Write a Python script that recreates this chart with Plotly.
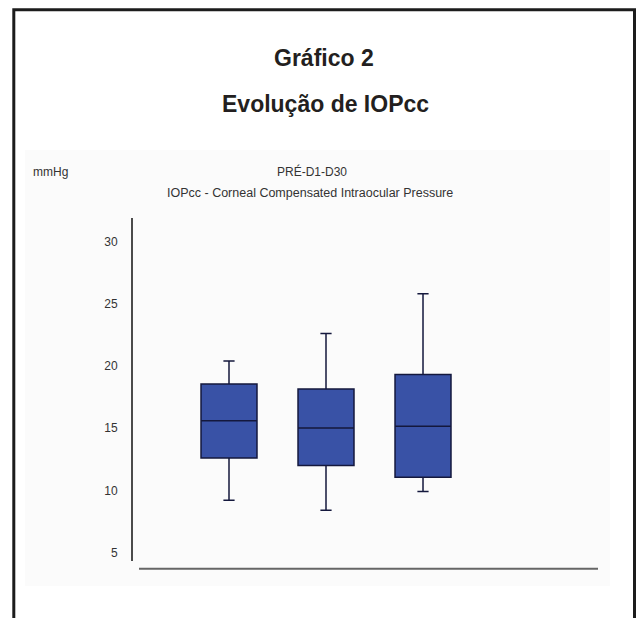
import plotly.graph_objects as go

# ---- data ----
groups = ["PRÉ", "D1", "D30"]
positions = [1, 2, 3]
lower_whisker = [9.2, 8.4, 9.9]
q1_values = [12.6, 12.0, 11.05]
median_values = [15.6, 15.0, 15.15]
q3_values = [18.55, 18.15, 19.3]
upper_whisker = [20.4, 22.6, 25.8]
y_tick_values = [5, 10, 15, 20, 25, 30]
y_tick_labels = ["5", "10", "15", "20", "25", "30"]

title_main = "Gráfico 2"
title_sub = "Evolução de IOPcc"
chart_title = "PRÉ-D1-D30"
chart_subtitle = "IOPcc - Corneal Compensated Intraocular Pressure"
unit_label = "mmHg"

# ---- layout geometry (pixels) ----
W, H = 636, 618
L, R, T, B = 132, 598, 218, 569

def px(x):
    return (x - L) / (R - L)

def py(y):
    return (B - y) / (B - T)

fig = go.Figure()
for i, g in enumerate(groups):
    fig.add_trace(go.Box(
        x=[positions[i]], name=g,
        q1=[q1_values[i]], median=[median_values[i]], q3=[q3_values[i]],
        lowerfence=[lower_whisker[i]], upperfence=[upper_whisker[i]],
        width=0.577, whiskerwidth=0.2,
        fillcolor="#3952a6",
        line=dict(color="#14183d", width=1.5),
        boxpoints=False, showlegend=False, hoverinfo="skip",
    ))

small_font = dict(family="Liberation Sans, Arial, sans-serif", size=12, color="#333333")
title_font = dict(family="Liberation Sans, Arial, Helvetica, sans-serif", size=23, color="#231f20")

fig.update_layout(
    width=W, height=H,
    margin=dict(l=L, r=W - R, t=T, b=H - B, pad=0),
    paper_bgcolor="white", plot_bgcolor="rgba(0,0,0,0)",
    xaxis=dict(range=[0, 4.804], showticklabels=False, showgrid=False,
               zeroline=False, showline=False, ticks=""),
    yaxis=dict(range=[3.674, 31.889], tickvals=y_tick_values, ticktext=y_tick_labels,
               showgrid=False, zeroline=False, showline=False,
               ticks="outside", ticklen=11, tickcolor="rgba(0,0,0,0)",
               tickfont=small_font),
    font=small_font,
    shapes=[
        # light chart background
        dict(type="rect", xref="paper", yref="paper", layer="below",
             x0=px(25), x1=px(610), y0=py(586), y1=py(150),
             fillcolor="#fbfbfb", line=dict(width=0)),
        # outer frame
        dict(type="rect", xref="paper", yref="paper",
             x0=px(13.8), x1=px(634.5), y0=py(645), y1=py(9.8),
             fillcolor="rgba(0,0,0,0)", line=dict(color="#1c1c1c", width=3)),
        # y axis line
        dict(type="line", xref="paper", yref="paper",
             x0=0, x1=0, y0=py(561), y1=1,
             line=dict(color="#111111", width=1.5)),
        # x axis line
        dict(type="line", xref="paper", yref="paper",
             x0=px(139), x1=1, y0=py(568.7), y1=py(568.7),
             line=dict(color="#666666", width=2)),
    ],
    annotations=[
        dict(text=f"<b>{title_main}</b>", xref="paper", yref="paper",
             x=px(324), y=py(58.5), xanchor="center", yanchor="middle",
             showarrow=False, font=title_font),
        dict(text=f"<b>{title_sub}</b>", xref="paper", yref="paper",
             x=px(325), y=py(104), xanchor="center", yanchor="middle",
             showarrow=False, font=title_font),
        dict(text=unit_label, xref="paper", yref="paper",
             x=px(31), y=py(172), xanchor="left", yanchor="middle",
             showarrow=False, font=small_font),
        dict(text=chart_title, xref="paper", yref="paper",
             x=px(312), y=py(171.5), xanchor="center", yanchor="middle",
             showarrow=False, font=small_font),
        dict(text=chart_subtitle, xref="paper", yref="paper",
             x=px(310), y=py(193), xanchor="center", yanchor="middle",
             showarrow=False, font=dict(family=small_font["family"], size=12.5, color="#333333")),
    ],
)

fig.write_html("out.html", config={"displayModeBar": False},
               post_script="document.body.style.margin='0';")
